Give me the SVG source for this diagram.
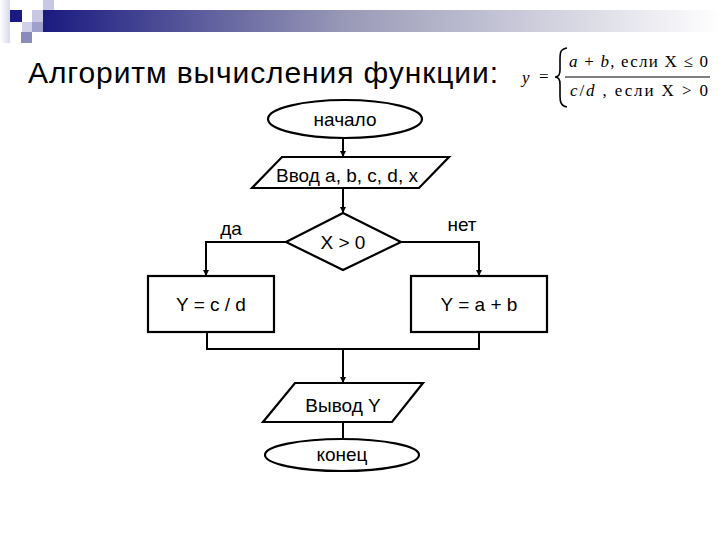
<svg xmlns="http://www.w3.org/2000/svg" width="720" height="540" viewBox="0 0 720 540">
<style>
.s{fill:#fff;stroke:#000;stroke-width:2.2}
.c{fill:none;stroke:#000;stroke-width:2}
.t{font-family:"Liberation Sans",Arial,sans-serif;font-size:19px;fill:#000;text-anchor:middle}
.m{font-family:"Liberation Serif","Times New Roman",serif;font-size:17px;fill:#000}
</style>
<defs>
<linearGradient id="bar" x1="0" y1="0" x2="1" y2="0">
<stop offset="0" stop-color="#1a1a80"/>
<stop offset="0.45" stop-color="#9a9ab8"/>
<stop offset="1" stop-color="#ffffff"/>
</linearGradient>
<linearGradient id="lft" x1="0" y1="0" x2="1" y2="0">
<stop offset="0" stop-color="#ffffff"/>
<stop offset="1" stop-color="#d8d8ee"/>
</linearGradient>
<marker id="ar" viewBox="0 0 10 10" refX="10" refY="5" markerWidth="6" markerHeight="7" orient="auto" markerUnits="userSpaceOnUse">
<path d="M0,0 L10,5 L0,10 z" fill="#000"/>
</marker>
</defs>
<rect width="720" height="540" fill="#fff"/>
<g id="decor">
<rect x="0" y="0" width="10" height="43" fill="url(#lft)"/>
<rect x="43" y="10" width="677" height="22" fill="url(#bar)"/>
<rect x="10" y="10" width="12" height="12" fill="#1a1a80"/>
<rect x="32" y="10" width="11" height="12" fill="#c8c8e4"/>
<rect x="43" y="0" width="11" height="10" fill="#c8c8e4"/>
<rect x="22" y="22" width="10" height="10" fill="#d0d0ea"/>
<rect x="32" y="22" width="11" height="10" fill="#a0a0cc"/>
<rect x="21" y="32" width="11" height="11" fill="#8a8abb"/>
</g>
<text x="28" y="83" font-family="Liberation Sans, Arial, sans-serif" font-size="30" fill="#000" textLength="470">Алгоритм вычисления функции:</text>
<g id="formula">
<text class="m" x="522" y="83" font-style="italic">y</text>
<text class="m" x="539" y="82">=</text>
<path d="M567,48 C560,49 560,53 560,60 L560,70 C560,75 558,77 555,77 C558,77 560,79 560,84 L560,96 C560,102 561,106 567,107" fill="none" stroke="#000" stroke-width="1.6"/>
<text class="m" x="569" y="67" textLength="139"><tspan font-style="italic">a</tspan> + <tspan font-style="italic">b</tspan>, если X ≤ 0</text>
<line x1="565" y1="77" x2="710" y2="77" stroke="#000" stroke-width="1"/>
<text class="m" x="570" y="96" textLength="138"><tspan font-style="italic">c</tspan>/<tspan font-style="italic">d</tspan> , если X &gt; 0</text>
</g>
<g id="connectors">
<line class="c" x1="343" y1="138" x2="343" y2="157" marker-end="url(#ar)"/>
<line class="c" x1="343" y1="188" x2="343" y2="213" marker-end="url(#ar)"/>
<polyline class="c" points="286,242 206,242 206,276" marker-end="url(#ar)"/>
<polyline class="c" points="401,242 479,242 479,276" marker-end="url(#ar)"/>
<polyline class="c" points="207,332 207,349 479,349 479,332"/>
<line class="c" x1="343" y1="349" x2="343" y2="383" marker-end="url(#ar)"/>
<line class="c" x1="343" y1="422" x2="343" y2="439"/>
</g>
<g id="start">
<ellipse class="s" cx="345" cy="119" rx="77" ry="19"/>
<text class="t" x="345" y="126">начало</text>
</g>
<g id="input">
<polygon class="s" points="282,157 449,157 419,188 252,188"/>
<text class="t" x="347" y="182" font-size="18">Ввод a, b, c, d, x</text>
</g>
<g id="cond">
<polygon class="s" points="343,213 401,242 343,270 286,242"/>
<text class="t" x="343" y="249">X &gt; 0</text>
</g>
<text class="t" x="231" y="235">да</text>
<text class="t" x="462" y="231">нет</text>
<g id="yes">
<rect class="s" x="148" y="276" width="126" height="56"/>
<text class="t" x="211" y="311">Y = c / d</text>
</g>
<g id="no">
<rect class="s" x="411" y="276" width="136" height="56"/>
<text class="t" x="479" y="311">Y = a + b</text>
</g>
<g id="output">
<polygon class="s" points="295,383 423,383 392,422 263,422"/>
<text class="t" x="343" y="412">Вывод Y</text>
</g>
<g id="end">
<ellipse class="s" cx="342" cy="455" rx="77" ry="16"/>
<text class="t" x="342" y="461">конец</text>
</g>
</svg>
